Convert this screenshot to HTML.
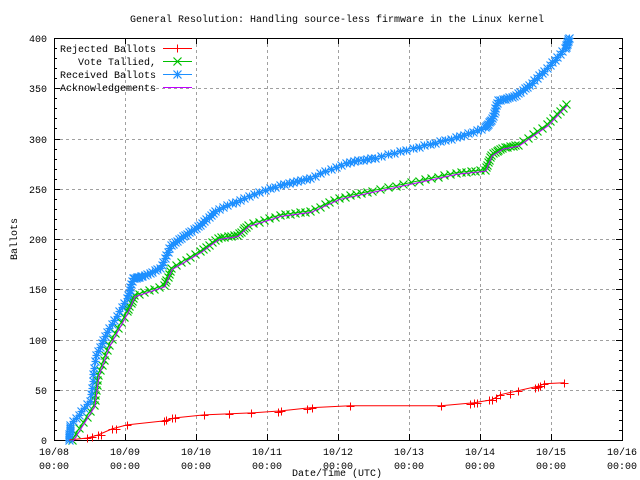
<!DOCTYPE html>
<html><head><meta charset="utf-8"><style>
html,body{margin:0;padding:0;background:#fff}
svg{display:block;font-family:"Liberation Mono",monospace;font-size:10px}
</style></head><body>
<svg id="s" width="640" height="480" xmlns="http://www.w3.org/2000/svg" shape-rendering="crispEdges">
<rect width="640" height="480" fill="#fff"/>
<g id="grid" stroke="#a0a0a0" stroke-dasharray="3,3" stroke-width="1"></g>
<g id="ax" stroke="#000" stroke-width="1" fill="none"></g>
<g id="lab" fill="#000"></g>
<g id="series"></g>
<text x="337" y="22" text-anchor="middle">General Resolution: Handling source-less firmware in the Linux kernel</text>
<text x="17" y="239" text-anchor="middle" transform="rotate(-90 17 239)">Ballots</text>
<text x="337" y="476" text-anchor="middle">Date/Time (UTC)</text>
<g id="leg"></g>
</svg>
<script>
var NS="http://www.w3.org/2000/svg",L=54,R=622,T=38,B=440;
function el(p,t,a,txt){var e=document.createElementNS(NS,t);for(var k in a)e.setAttribute(k,a[k]);if(txt!=null)e.textContent=txt;document.getElementById(p).appendChild(e);return e;}
function Y(v){return B-(B-T)*v/400;}
var dx=(R-L)/8;
for(var i=0;i<=8;i++){var x=Math.round(L+dx*i);
 if(i>0&&i<8)el("grid","line",{x1:x+.5,y1:T,x2:x+.5,y2:B});
 el("ax","line",{x1:x+.5,y1:B,x2:x+.5,y2:B-6});el("ax","line",{x1:x+.5,y1:T,x2:x+.5,y2:T+6});
 el("lab","text",{x:x,y:455,"text-anchor":"middle"},"10/"+("0"+(8+i)).slice(-2));
 el("lab","text",{x:x,y:469,"text-anchor":"middle"},"00:00");}
for(var v=0;v<=400;v+=50){var y=Math.round(Y(v));
 if(v>0&&v<400)el("grid","line",{x1:L,y1:y+.5,x2:R,y2:y+.5});
 el("ax","line",{x1:L,y1:y+.5,x2:L+6,y2:y+.5});el("ax","line",{x1:R,y1:y+.5,x2:R-6,y2:y+.5});
 el("lab","text",{x:47,y:y+4,"text-anchor":"end"},v);}
for(var v=10;v<400;v+=10){if(v%50==0)continue;var y=Math.round(Y(v));
 el("ax","line",{x1:L,y1:y+.5,x2:L+3,y2:y+.5});el("ax","line",{x1:R,y1:y+.5,x2:R-3,y2:y+.5});}
el("ax","rect",{x:L+.5,y:T+.5,width:R-L,height:B-T});
function interp(pts,n){var out=[];for(var i=0;i<pts.length-1;i++){var a=pts[i],b=pts[i+1];for(var j=0;j<n;j++){var t=j/n;out.push([a[0]+(b[0]-a[0])*t,a[1]+(b[1]-a[1])*t]);}}out.push(pts[pts.length-1]);return out;}
var blue=[[69,0],[70,15],[90,39],[96,85],[109,111],[127,141],[133,161],[142,163],[160,171],[171,194],[185,204],[200,214],[215,228],[244,241],[280,254],[310,261],[346,276],[375,281],[419,292],[456,301],[485,311],[492,320],[498,338],[514,342],[529,353],[547,370],[565,390],[569,400]];
var green=[[72,0],[94,35],[98,65],[109,95],[127,128],[134,144],[164,154],[171,171],[200,188],[218,201],[237,204],[248,214],[280,224],[310,228],[339,241],[372,248],[419,258],[456,266],[485,269],[491,284],[502,291],[518,294],[547,314],[566,334]];
var red=[[69,0],[87,2],[98,5],[112,11],[127,15],[164,19],[175,22],[204,25],[251,27],[281,29],[310,32],[350,34],[441,34],[474,37],[492,40],[500,45],[518,49],[540,54],[544,56],[564,57]];
var redM=[[87,2],[92,3],[98,5],[101,5],[112,11],[116,11],[127,15],[164,19],[166,20],[172,22],[175,22],[204,25],[229,26],[251,27],[278,28],[281,29],[307,31],[312,32],[350,34],[441,34],[470,36],[474,37],[477,37],[489,40],[492,40],[496,42],[500,45],[510,46],[518,49],[535,52],[538,53],[540,54],[544,56],[564,57]];
function mk(g,x,y,t,c){var s=4;x=Math.round(x)+.5;y=Math.round(y)+.5;
 if(t=="+"){el(g,"path",{d:"M"+(x-s)+","+y+"H"+(x+s)+"M"+x+","+(y-s)+"V"+(y+s),stroke:c,fill:"none"});}
 else if(t=="x"){el(g,"path",{d:"M"+(x-s)+","+(y-s)+"L"+(x+s)+","+(y+s)+"M"+(x-s)+","+(y+s)+"L"+(x+s)+","+(y-s),stroke:c,fill:"none","stroke-width":1.2,"shape-rendering":"auto"});}
 else{el(g,"path",{d:"M"+(x-s)+","+y+"H"+(x+s)+"M"+x+","+(y-s)+"V"+(y+s)+"M"+(x-s)+","+(y-s)+"L"+(x+s)+","+(y+s)+"M"+(x-s)+","+(y+s)+"L"+(x+s)+","+(y-s),stroke:c,fill:"none","stroke-width":1.2,"shape-rendering":"auto"});}}
function poly(p,c){el("series","polyline",{points:p.map(function(q){return q[0]+","+Y(q[1]).toFixed(1)}).join(" "),fill:"none",stroke:c,"stroke-width":1,"shape-rendering":"auto"});}
redM.forEach(function(q){mk("series",q[0],Y(q[1]),"+","#ff0000");});
interp(green,6).forEach(function(q){mk("series",q[0],Y(q[1]),"x","#00c000");});
interp(blue,7).forEach(function(q){mk("series",q[0],Y(q[1]),"*","#1e90ff");});
poly(red,"#ff0000");poly(green,"#00c000");poly(blue,"#1e90ff");
poly(green.map(function(q){return[q[0]+1,q[1]-1.5]}),"#c000ff");
var lg=[["Rejected Ballots","#ff0000","+"],["Vote Tallied,","#00c000","x"],["Received Ballots","#1e90ff","*"],["Acknowledgements","#c000ff",""]];
lg.forEach(function(l,i){var y=48+i*13;
 el("leg","text",{x:156,y:y+4,"text-anchor":"end"},l[0]);
 el("leg","line",{x1:163,y1:y+.5,x2:192,y2:y+.5,stroke:l[1]});
 if(l[2])mk("leg",177,y,l[2],l[1]);});
</script>
</body></html>
